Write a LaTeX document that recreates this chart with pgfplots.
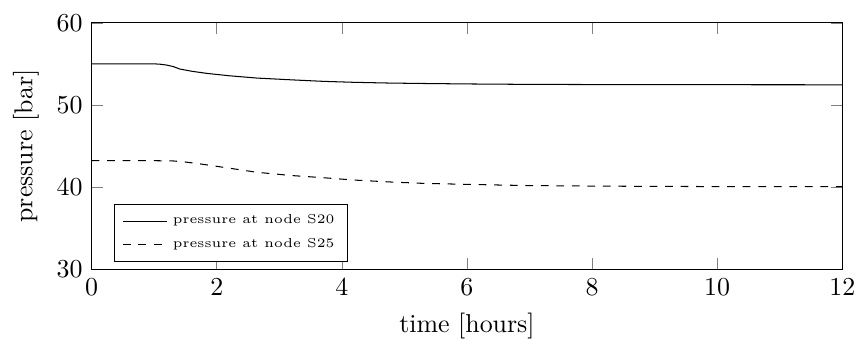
\documentclass[border=0pt]{standalone}
\usepackage{pgfplots}
\pgfplotsset{compat=1.18}
\begin{document}
\begin{tikzpicture}
\begin{axis}[
  scale only axis,
  width=290pt, height=95.2pt,
  xmin=0, xmax=12, ymin=30, ymax=60,
  xtick={0,2,4,6,8,10,12},
  ytick={30,40,50,60},
  xlabel={time [hours]},
  ylabel={pressure [bar]},
  legend style={at={(0.03,0.03)}, anchor=south west, font=\tiny, draw=black},
  legend cell align=left,
]
\addplot[black, no markers] coordinates {
(0,55) (1.0,55) (1.1,54.95) (1.2,54.85) (1.3,54.68) (1.41,54.37) (1.6,54.1)
(1.84,53.84) (2.2,53.55) (2.64,53.27) (3.2,53.05) (3.7,52.87) (4.2,52.75)
(4.77,52.66) (5.4,52.6) (6.05,52.55) (7,52.5) (8,52.48) (9,52.47) (10,52.46) (12,52.45)
};
\addlegendentry{pressure at node S20\hspace{3.5pt}}
\addplot[black, dashed, no markers] coordinates {
(0,43.21) (1.0,43.21) (1.3,43.18) (1.5,43.05) (1.78,42.77) (2.2,42.3) (2.64,41.8)
(3.2,41.4) (3.7,41.14) (4.2,40.85) (4.77,40.62) (5.3,40.45) (5.94,40.34) (6.5,40.25)
(7,40.18) (8,40.12) (9,40.08) (10,40.06) (12,40.04)
};
\addlegendentry{pressure at node S25\hspace{3.5pt}}
\end{axis}
\pgfresetboundingbox
\path ([shift={(-35.4pt,-27.3pt)}]current axis.south west) rectangle ([shift={(5.3pt,8.8pt)}]current axis.north east);
\end{tikzpicture}
\end{document}
